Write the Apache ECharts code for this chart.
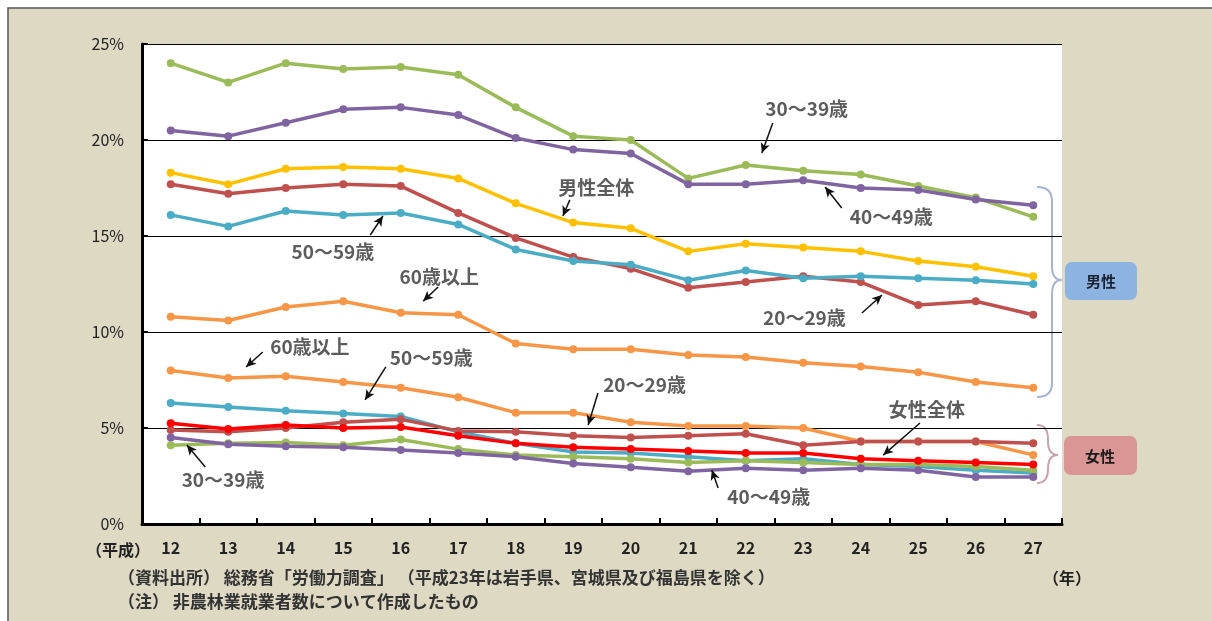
<!DOCTYPE html>
<html><head><meta charset="utf-8">
<script src="https://cdn.jsdelivr.net/npm/echarts@6/dist/echarts.min.js"></script>
<style>html,body{margin:0;padding:0;background:#fff}#c{width:1212px;height:621px}</style>
</head><body><div id="c"></div>
<script>
const categories = ['12','13','14','15','16','17','18','19','20','21','22','23','24','25','26','27'];
const yTicks = [0, 5, 10, 15, 20, 25];

// 男性
const men30_39 = [24.0, 23.0, 24.0, 23.7, 23.8, 23.4, 21.7, 20.2, 20.0, 18.0, 18.7, 18.4, 18.2, 17.6, 17.0, 16.0];
const men40_49 = [20.5, 20.2, 20.9, 21.6, 21.7, 21.3, 20.1, 19.5, 19.3, 17.7, 17.7, 17.9, 17.5, 17.4, 16.9, 16.6];
const menAll   = [18.3, 17.7, 18.5, 18.6, 18.5, 18.0, 16.7, 15.7, 15.4, 14.2, 14.6, 14.4, 14.2, 13.7, 13.4, 12.9];
const men20_29 = [17.7, 17.2, 17.5, 17.7, 17.6, 16.2, 14.9, 13.9, 13.3, 12.3, 12.6, 12.9, 12.6, 11.4, 11.6, 10.9];
const men50_59 = [16.1, 15.5, 16.3, 16.1, 16.2, 15.6, 14.3, 13.7, 13.5, 12.7, 13.2, 12.8, 12.9, 12.8, 12.7, 12.5];
const men60    = [10.8, 10.6, 11.3, 11.6, 11.0, 10.9, 9.4, 9.1, 9.1, 8.8, 8.7, 8.4, 8.2, 7.9, 7.4, 7.1];
// 女性
const women60    = [8.0, 7.6, 7.7, 7.4, 7.1, 6.6, 5.8, 5.8, 5.3, 5.1, 5.1, 5.0, 4.3, 4.3, 4.3, 3.6];
const women50_59 = [6.3, 6.1, 5.9, 5.75, 5.6, 4.8, 4.2, 3.75, 3.7, 3.5, 3.3, 3.4, 3.1, 3.0, 2.8, 2.65];
const women20_29 = [4.9, 4.8, 5.0, 5.3, 5.45, 4.85, 4.8, 4.6, 4.5, 4.6, 4.7, 4.1, 4.3, 4.3, 4.3, 4.2];
const women30_39 = [4.1, 4.2, 4.25, 4.1, 4.4, 3.9, 3.6, 3.5, 3.4, 3.2, 3.3, 3.2, 3.1, 3.1, 3.0, 2.8];
const women40_49 = [4.5, 4.15, 4.05, 4.0, 3.85, 3.7, 3.5, 3.15, 2.95, 2.75, 2.9, 2.8, 2.9, 2.8, 2.45, 2.45];
const womenAll   = [5.25, 4.95, 5.15, 5.0, 5.05, 4.6, 4.2, 4.0, 3.9, 3.8, 3.7, 3.7, 3.4, 3.3, 3.2, 3.1];

// annotation texts: [category index, percent]
const annotLabels = [
  {name:'30～39歳', value:[11.06, 21.6]},
  {name:'40～49歳', value:[12.53, 16.0]},
  {name:'男性全体', value:[7.40, 17.5]},
  {name:'50～59歳', value:[2.82, 14.2]},
  {name:'60歳以上', value:[4.67, 12.86]},
  {name:'20～29歳', value:[11.02, 10.73]},
  {name:'60歳以上', value:[2.42, 9.22]},
  {name:'50～59歳', value:[4.53, 8.65]},
  {name:'20～29歳', value:[8.24, 7.24]},
  {name:'女性全体', value:[13.15, 5.94]},
  {name:'40～49歳', value:[10.40, 1.41]},
  {name:'30～39歳', value:[0.91, 2.29]}
];
const annotArrows = [
  [[10.47, 20.89], [10.28, 19.32]],
  [[11.67, 16.46], [11.38, 17.55]],
  [[6.94, 16.88], [6.82, 16.04]],
  [[3.47, 15.05], [3.69, 16.04]],
  [[4.65, 12.34], [4.39, 11.61]],
  [[12.02, 10.99], [12.37, 11.93]],
  [[1.60, 8.96], [1.31, 8.18]],
  [[3.74, 8.18], [3.38, 6.46]],
  [[7.43, 6.82], [7.26, 5.16]],
  [[13.03, 5.26], [12.39, 3.59]],
  [[9.52, 1.875], [9.41, 2.81]],
  [[0.60, 2.97], [0.28, 4.11]]
];

const FONT = '"Noto Sans CJK JP", "Noto Sans", sans-serif';
const C = {g:'#9bbb59', p:'#8064a2', y:'#ffc000', r:'#c0504d', t:'#4bacc6', o:'#f79646', red:'#ff0000'};

function ln(name, data, color) {
  return {
    name, type:'line', data, xAxisIndex:0, yAxisIndex:0,
    symbol:'circle', symbolSize:8, showSymbol:true,
    lineStyle:{color, width:3.5}, itemStyle:{color},
    emphasis:{disabled:true}, silent:true
  };
}

const series = [
  ln('男性30～39歳', men30_39, C.g),
  ln('男性40～49歳', men40_49, C.p),
  ln('男性全体', menAll, C.y),
  ln('男性20～29歳', men20_29, C.r),
  ln('男性50～59歳', men50_59, C.t),
  ln('男性60歳以上', men60, C.o),
  ln('女性60歳以上', women60, C.o),
  ln('女性50～59歳', women50_59, C.t),
  ln('女性20～29歳', women20_29, C.r),
  ln('女性30～39歳', women30_39, C.g),
  ln('女性40～49歳', women40_49, C.p),
  ln('女性全体', womenAll, C.red),
  {
    type:'scatter', xAxisIndex:1, yAxisIndex:0, silent:true, z:5,
    data: annotLabels, symbolSize:1, itemStyle:{color:'rgba(0,0,0,0)'},
    label:{show:true, position:'inside', formatter:'{b}', fontSize:19, fontWeight:'bold', fontFamily:FONT, color:'#333'},
    markLine:{
      silent:true, symbol:['none','arrow'], symbolSize:[7,10],
      lineStyle:{color:'#111', width:1.5, type:'solid'},
      label:{show:false}, emphasis:{disabled:true},
      data: annotArrows.map(a => [{coord:a[0]}, {coord:a[1]}])
    }
  }
];

function brace(x0, xs, xt, y0, ym, y1, color) {
  const r = 14;
  const st = {stroke:color, lineWidth:2, fill:null};
  return [
    {type:'bezierCurve', shape:{x1:x0, y1:y0, cpx1:xs, cpy1:y0, x2:xs, y2:y0+r}, style:st},
    {type:'line', shape:{x1:xs, y1:y0+r, x2:xs, y2:ym-r}, style:st},
    {type:'bezierCurve', shape:{x1:xs, y1:ym-r, cpx1:xs, cpy1:ym, x2:xt, y2:ym}, style:st},
    {type:'bezierCurve', shape:{x1:xt, y1:ym, cpx1:xs, cpy1:ym, x2:xs, y2:ym+r}, style:st},
    {type:'line', shape:{x1:xs, y1:ym+r, x2:xs, y2:y1-r}, style:st},
    {type:'bezierCurve', shape:{x1:xs, y1:y1-r, cpx1:xs, cpy1:y1, x2:x0, y2:y1}, style:st}
  ];
}

const chart = echarts.init(document.getElementById('c'), null, {renderer:'canvas'});
chart.setOption({
  animation:false,
  backgroundColor:'#fff',
  textStyle:{fontFamily:FONT},
  grid:{left:142, right:150, top:44, bottom:97, containLabel:false, show:true, backgroundColor:'#fff', borderWidth:0},
  xAxis:[
    {type:'category', data:categories, boundaryGap:true,
     axisLine:{show:true, onZero:false, lineStyle:{color:'#000', width:3}},
     axisTick:{show:true, inside:true, length:6, lineStyle:{color:'#000', width:2}},
     axisLabel:{color:'#222', fontSize:16, fontWeight:'bold', margin:16, fontFamily:FONT},
     splitLine:{show:false}},
    {type:'value', min:-0.5, max:15.5, show:false}
  ],
  yAxis:{type:'value', min:0, max:25, interval:5,
     axisLine:{show:true, onZero:false, lineStyle:{color:'#000', width:3}},
     axisTick:{show:true, inside:true, length:6, lineStyle:{color:'#000', width:2}},
     axisLabel:{color:'#222', fontSize:16, margin:18, formatter:'{value}%', fontFamily:FONT},
     splitLine:{show:true, lineStyle:{color:'#000', width:1}}},
  series,
  graphic:[
    {type:'rect', z:-10, silent:true, shape:{x:8, y:8, width:1230, height:640},
     style:{fill:'#ddd9c3', stroke:'#555', lineWidth:1.5}},
    {type:'group', silent:true, children: brace(1037, 1052, 1062, 187, 280, 397, '#a7b4cc')},
    {type:'group', silent:true, children: brace(1037, 1048, 1058, 425, 455, 483, '#c7a3b0')},
    {type:'rect', silent:true, shape:{x:1065, y:262, width:72, height:38, r:7}, style:{fill:'#8db3e2'}},
    {type:'text', silent:true, x:1101, y:281, style:{text:'男性', fill:'#1b2333', font:'bold 15px ' + FONT, align:'center', verticalAlign:'middle'}},
    {type:'rect', silent:true, shape:{x:1064, y:436, width:73, height:39, r:7}, style:{fill:'#d99694'}},
    {type:'text', silent:true, x:1100, y:456, style:{text:'女性', fill:'#1b1b1b', font:'bold 15px ' + FONT, align:'center', verticalAlign:'middle'}},
    {type:'text', silent:true, x:150, y:550, style:{text:'（平成）', fill:'#222', font:'bold 16px ' + FONT, align:'right', verticalAlign:'middle'}},
    {type:'text', silent:true, x:1043, y:578, style:{text:'（年）', fill:'#222', font:'bold 16px ' + FONT, align:'left', verticalAlign:'middle'}},
    {type:'text', silent:true, x:118, y:578, style:{text:'（資料出所） 総務省「労働力調査」 （平成23年は岩手県、宮城県及び福島県を除く）', fill:'#333', font:'bold 17px ' + FONT, align:'left', verticalAlign:'middle'}},
    {type:'text', silent:true, x:118, y:602, style:{text:'（注） 非農林業就業者数について作成したもの', fill:'#333', font:'bold 17px ' + FONT, align:'left', verticalAlign:'middle'}}
  ]
});
</script>
</body></html>
